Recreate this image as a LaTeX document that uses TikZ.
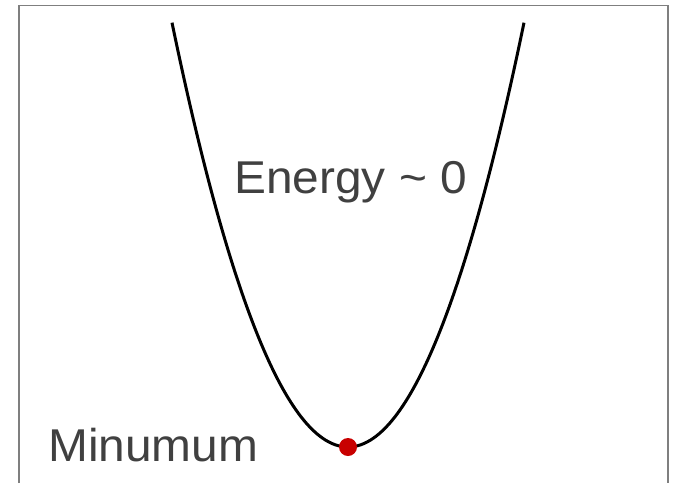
\documentclass[tikz,border=0pt]{standalone}
\usepackage{fontspec}
\setmainfont[FakeStretch=1.04]{Liberation Sans}
\definecolor{txtgray}{HTML}{404040}
\definecolor{framegray}{HTML}{7F7F7F}
\definecolor{dotred}{HTML}{C80000}
\tikzset{
  lbl/.style={inner sep=0pt, text=txtgray, font=\fontsize{46}{50}\selectfont, anchor=base west},
  framestyle/.style={draw=framegray, line width=1.5pt},
  curvestyle/.style={draw=black, line width=3pt},
  dotstyle/.style={circle, fill=dotred, inner sep=0pt, minimum size=18pt}
}
\begin{document}
\begin{tikzpicture}[x=1pt,y=-1pt]
\useasboundingbox (0,0) rectangle (675,483);
\draw[framestyle] (19,483) -- (19,5.5) -- (668,5.5) -- (668,483);
\draw[curvestyle, domain=-17.6:17.6, samples=120, smooth] plot ({348+10*\x},{447-\x*\x*1.3699});
\node[dotstyle] (min) at (348,447) {};
\node[lbl] (energy) at (234,193) {Energy \char"007E{} 0};
\node[lbl] (minlbl) at (48,461) {Minumum};
\end{tikzpicture}
\end{document}
